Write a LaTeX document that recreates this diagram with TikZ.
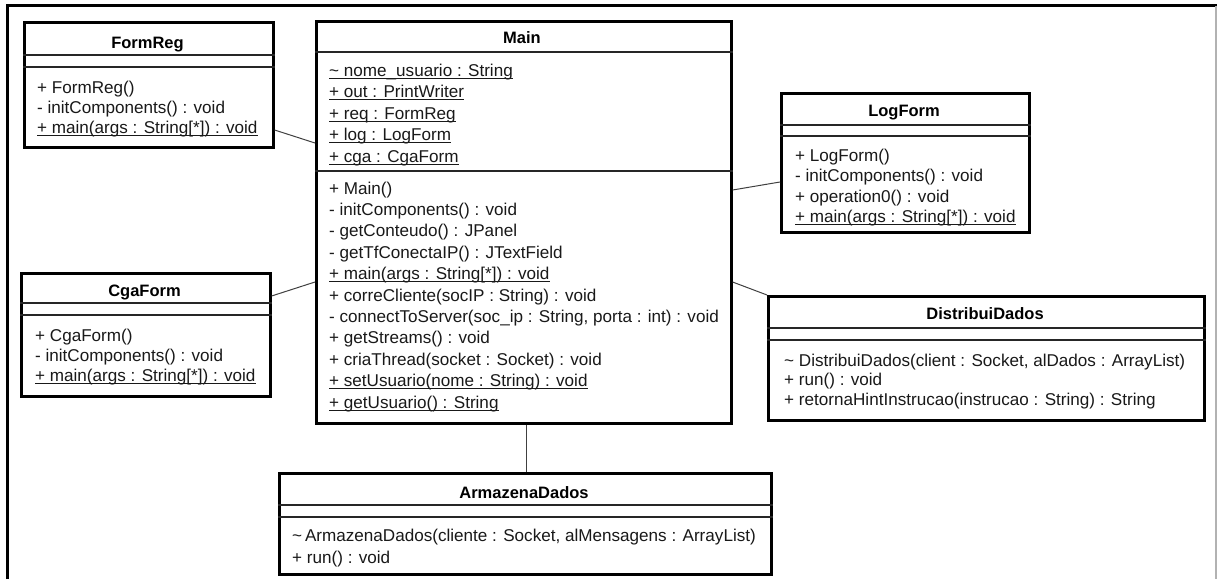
\documentclass[tikz,border=0pt]{standalone}
\usepackage{fontspec}
\setmainfont{Liberation Sans}
\usetikzlibrary{calc}
% underlined (static) member
\newcommand\ulin[1]{\setbox0\hbox{#1}\rlap{\rule[-2.6pt]{\wd0}{1.1pt}}\box0}
\begin{document}
\begin{tikzpicture}[x=1pt,y=-1pt,
  box/.style={draw=black, line width=2.6pt, fill=white, inner sep=0pt, anchor=north west},
  sep/.style={line width=1.3pt, black!85},
  link/.style={line width=1pt, black!75},
  title/.style={anchor=base, font=\fontsize{16.5}{19}\selectfont\bfseries, inner sep=0pt},
  member/.style={anchor=base west, font=\fontsize{17.1}{20}\selectfont, inner sep=0pt, text=black!90},
]
\useasboundingbox (0,0) rectangle (1217,579);
% window frame
\draw[line width=3pt] (7,579) -- (7,5.5) -- (1217,5.5);
\draw[line width=1.2pt, black!30] (1216,6) -- (1216,579);

% ---- FormReg
\node[box, minimum width=249, minimum height=125] (formreg) at (23,21) {};
\draw[sep] ($(formreg.north west)+(0,34)$) -- ($(formreg.north east)+(0,34)$);
\draw[sep] ($(formreg.north west)+(0,46)$) -- ($(formreg.north east)+(0,46)$);
\node[title] (formregT) at (147.5,48) {FormReg};
\node[member] (fr1) at (37,93) {+ FormReg()};
\node[member] (fr2) at (37,113) {- initComponents() : void};
\node[member] (fr3) at (37,133) {\ulin{+ main(args : String[*]) : void}};

% ---- Main
\node[box, minimum width=415, minimum height=402] (main) at (315,20) {};
\draw[sep] ($(main.north west)+(0,32)$) -- ($(main.north east)+(0,32)$);
\draw[sep] ($(main.north west)+(0,151)$) -- ($(main.north east)+(0,151)$);
\node[title] (mainT) at (522,43) {Main};
\foreach \t [count=\i from 0] in {%
  {\ulin{\textasciitilde\ nome\_usuario : String}},
  {\ulin{+ out : PrintWriter}},
  {\ulin{+ req : FormReg}},
  {\ulin{+ log : LogForm}},
  {\ulin{+ cga : CgaForm}}}
  \node[member] (ma\i) at (329,76+21.5*\i) {\t};
\foreach \t [count=\i from 0] in {%
  {+ Main()},
  {- initComponents() : void},
  {- getConteudo() : JPanel},
  {- getTfConectaIP() : JTextField},
  {\ulin{+ main(args : String[*]) : void}},
  {+ correCliente(socIP : String) : void},
  {- connectToServer(soc\_ip : String, porta : int) : void},
  {+ getStreams() : void},
  {+ criaThread(socket : Socket) : void},
  {\ulin{+ setUsuario(nome : String) : void}},
  {\ulin{+ getUsuario() : String}}}
  \node[member] (mo\i) at (329,194+21.4*\i) {\t};

% ---- LogForm
\node[box, minimum width=248, minimum height=139] (logform) at (780,92) {};
\draw[sep] ($(logform.north west)+(0,33)$) -- ($(logform.north east)+(0,33)$);
\draw[sep] ($(logform.north west)+(0,44)$) -- ($(logform.north east)+(0,44)$);
\node[title] (logformT) at (904,116) {LogForm};
\node[member] (lf1) at (795,161) {+ LogForm()};
\node[member] (lf2) at (795,181.6) {- initComponents() : void};
\node[member] (lf3) at (795,202.2) {+ operation0() : void};
\node[member] (lf4) at (795,222.8) {\ulin{+ main(args : String[*]) : void}};

% ---- DistribuiDados
\node[box, minimum width=436, minimum height=124] (distribui) at (767,295) {};
\draw[sep] ($(distribui.north west)+(0,33)$) -- ($(distribui.north east)+(0,33)$);
\draw[sep] ($(distribui.north west)+(0,45)$) -- ($(distribui.north east)+(0,45)$);
\node[title] (distribuiT) at (985,319) {DistribuiDados};
\node[member] (dd1) at (784,366) {\textasciitilde\ DistribuiDados(client : Socket, alDados : ArrayList)};
\node[member] (dd2) at (784,385.5) {+ run() : void};
\node[member] (dd3) at (784,405) {+ retornaHintInstrucao(instrucao : String) : String};

% ---- CgaForm
\node[box, minimum width=249, minimum height=123] (cgaform) at (20,272) {};
\draw[sep] ($(cgaform.north west)+(0,31)$) -- ($(cgaform.north east)+(0,31)$);
\draw[sep] ($(cgaform.north west)+(0,43)$) -- ($(cgaform.north east)+(0,43)$);
\node[title] (cgaformT) at (144.5,296) {CgaForm};
\node[member] (cf1) at (35,341) {+ CgaForm()};
\node[member] (cf2) at (35,361) {- initComponents() : void};
\node[member] (cf3) at (35,381) {\ulin{+ main(args : String[*]) : void}};

% ---- ArmazenaDados
\node[box, minimum width=492, minimum height=101] (armazena) at (278,472) {};
\draw[sep] ($(armazena.north west)+(0,33)$) -- ($(armazena.north east)+(0,33)$);
\draw[sep] ($(armazena.north west)+(0,45)$) -- ($(armazena.north east)+(0,45)$);
\node[title] (armazenaT) at (524,498) {ArmazenaDados};
\node[member] (ad1) at (292,541) {\textasciitilde\,ArmazenaDados(cliente : Socket, alMensagens : ArrayList)};
\node[member] (ad2) at (292,563) {+ run() : void};

% ---- associations
\draw[link] ($(formreg.north east)+(0,109)$) -- ($(main.north west)+(0,123)$);
\draw[link] ($(cgaform.north east)+(0,24)$) -- ($(main.north west)+(0,262)$);
\draw[link] ($(main.north east)+(0,170)$) -- ($(logform.north west)+(0,90)$);
\draw[link] ($(main.north east)+(0,262)$) -- (distribui.north west);
\draw[link] ($(main.south west)+(211,0)$) -- ($(armazena.north west)+(248,0)$);
\end{tikzpicture}
\end{document}
